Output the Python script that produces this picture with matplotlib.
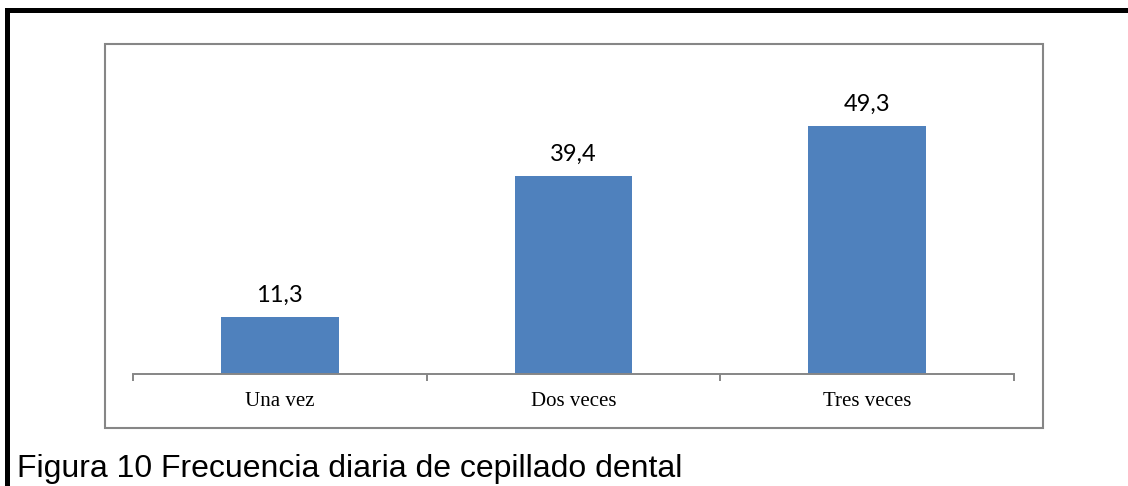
import matplotlib
matplotlib.use("Agg")
import matplotlib.pyplot as plt
from matplotlib.lines import Line2D
from matplotlib.patches import Rectangle

categorias = ["Una vez", "Dos veces", "Tres veces"]
porcentajes = [11.3, 39.4, 49.3]
etiquetas = ["11,3", "39,4", "49,3"]

azul = "#4F81BD"
gris = "#868686"

dpi = 100
fig = plt.figure(figsize=(1128 / dpi, 486 / dpi), dpi=dpi)

# marco negro de la figura (arriba e izquierda)
fig.add_artist(Line2D([0.0066, 1.0], [0.9784, 0.9784], color="black", lw=3.6,
                      solid_capstyle="projecting", transform=fig.transFigure))
fig.add_artist(Line2D([0.0066, 0.0066], [0.0, 0.9784], color="black", lw=3.6,
                      solid_capstyle="projecting", transform=fig.transFigure))

# recuadro gris del area del grafico
fig.add_artist(Rectangle((0.0931, 0.1193), 0.8316, 0.790, fill=False,
                         edgecolor=gris, lw=1.5, transform=fig.transFigure))

ax = fig.add_axes([0.1179, 0.2305, 0.781, 0.6214])
pos = list(range(len(categorias)))
ax.bar(pos, porcentajes, width=0.4, color=azul)

for x, v, t in zip(pos, porcentajes, etiquetas):
    ax.annotate(t, (x, v), xytext=(0, 11), textcoords="offset points",
                ha="center", va="baseline", fontsize=17, family="Lato")

ax.set_xlim(-0.5, 2.5)
ax.set_ylim(0, 60)
for s in ["top", "right", "left"]:
    ax.spines[s].set_visible(False)
ax.spines["bottom"].set_color(gris)
ax.spines["bottom"].set_linewidth(1.4)
ax.set_yticks([])

ax.set_xticks([-0.5, 0.5, 1.5, 2.5])
ax.set_xticklabels([])
ax.tick_params(axis="x", which="major", direction="out", length=5,
               width=1.4, color=gris)
ax.set_xticks(pos, minor=True)
ax.set_xticklabels(categorias, minor=True, family="Liberation Serif",
                   fontsize=15)
ax.tick_params(axis="x", which="minor", length=0, pad=13)

fig.text(0.015, 0.0185, "Figura 10 Frecuencia diaria de cepillado dental",
         family="Liberation Sans", fontsize=23, va="baseline", ha="left")

fig.savefig("out.png", dpi=dpi)
